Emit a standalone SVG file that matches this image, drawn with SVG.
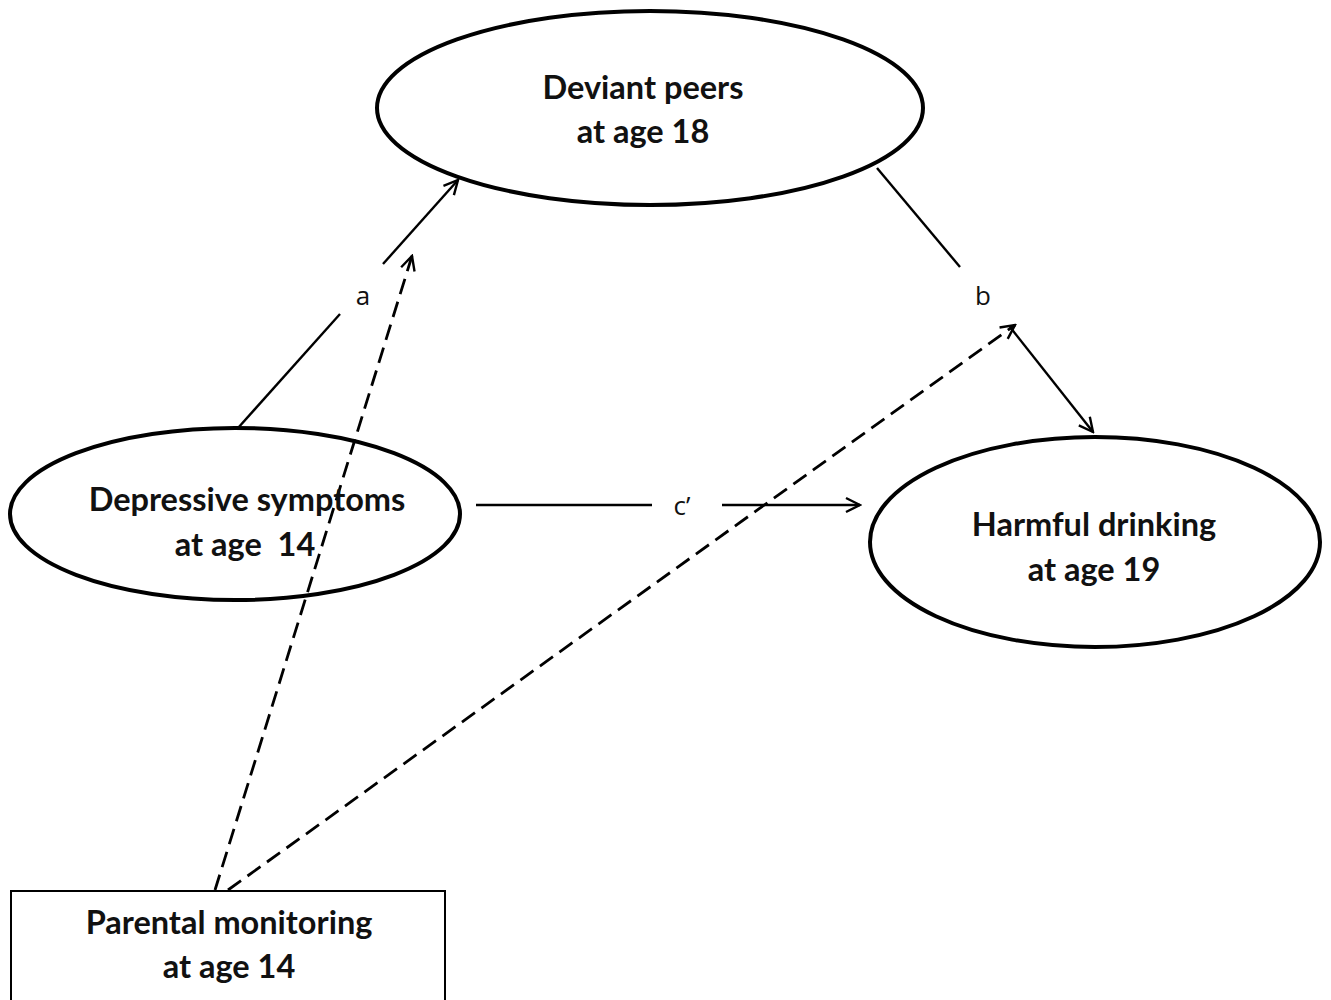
<svg xmlns="http://www.w3.org/2000/svg" width="1331" height="1000" viewBox="0 0 1331 1000">
<style>
.node{fill:#fff;stroke:#000;stroke-width:4}
.box{fill:#fff;stroke:#000;stroke-width:2}
.t{font-family:Lato,"Liberation Sans",sans-serif;font-weight:bold;font-size:32.5px;fill:#111;text-anchor:middle}
.lbl{font-family:"Open Sans","Liberation Sans",sans-serif;font-size:26px;fill:#111;text-anchor:middle}
.ln{stroke:#000;stroke-width:2.4;fill:none}
.dash{stroke:#000;stroke-width:2.8;fill:none;stroke-dasharray:16,8}
</style>
<defs>
<marker id="arr" viewBox="0 0 20 20" refX="18" refY="10" markerWidth="20" markerHeight="20" markerUnits="userSpaceOnUse" orient="auto">
<path d="M4,3 L18,10 L4,17" fill="none" stroke="#000" stroke-width="2.4"/>
</marker>
</defs>
<rect width="1331" height="1000" fill="#fff"/>
<g id="connectors">
<line class="ln" x1="238" y1="428" x2="340" y2="314"/>
<line class="ln" x1="383" y1="264" x2="458" y2="180" marker-end="url(#arr)"/>
<line class="ln" x1="877" y1="168" x2="960" y2="267"/>
<line class="ln" x1="1010" y1="327" x2="1093" y2="432" marker-end="url(#arr)"/>
<line class="ln" x1="476" y1="505" x2="652" y2="505"/>
<line class="ln" x1="722" y1="505" x2="860" y2="505" marker-end="url(#arr)"/>
<line class="dash" x1="215" y1="890" x2="412" y2="256" marker-end="url(#arr)"/>
<line class="dash" x1="228" y1="890" x2="1015" y2="325" marker-end="url(#arr)"/>
<text class="lbl" x="363" y="305">a</text>
<text class="lbl" x="983" y="305">b</text>
<text class="lbl" x="682" y="515">c’</text>
</g>
<g id="deviant-peers">
<ellipse class="node" cx="650" cy="108" rx="273" ry="97"/>
<text class="t" x="643" y="99">Deviant peers</text>
<text class="t" x="643" y="143">at age 18</text>
</g>
<g id="depressive-symptoms">
<ellipse class="node" cx="235" cy="514" rx="225" ry="86" fill-opacity="0"/>
<text class="t" x="247" y="511">Depressive symptoms</text>
<text class="t" x="245" y="556" xml:space="preserve">at age  14</text>
</g>
<g id="harmful-drinking">
<ellipse class="node" cx="1095" cy="542" rx="225" ry="105"/>
<text class="t" x="1094" y="536">Harmful drinking</text>
<text class="t" x="1094" y="581">at age 19</text>
</g>
<g id="parental-monitoring">
<rect class="box" x="11" y="891" width="434" height="120"/>
<text class="t" x="229" y="934">Parental monitoring</text>
<text class="t" x="229" y="978">at age 14</text>
</g>
</svg>
